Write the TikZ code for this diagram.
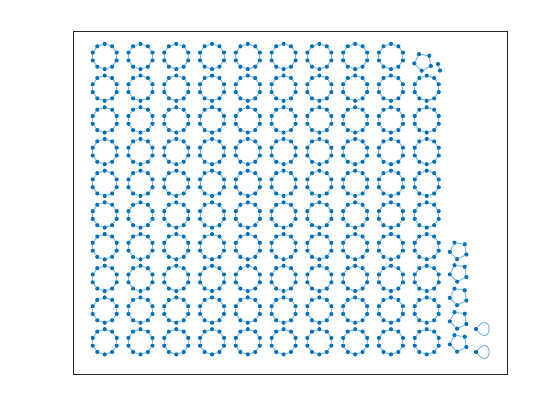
\documentclass[tikz,border=0pt]{standalone}
\usetikzlibrary{calc}
\definecolor{nodeblue}{RGB}{0,114,189}
\definecolor{edgeblue}{RGB}{128,184,222}
\definecolor{axgray}{RGB}{38,38,38}
\pgfdeclarelayer{bg}
\pgfsetlayers{bg,main}
\tikzset{
  vtx/.style={circle, fill=nodeblue, draw=none, inner sep=0pt, minimum size=4.2pt},
  edgeline/.style={draw=edgeblue, line width=1pt},
  axbox/.style={draw=axgray, line width=0.8pt}
}
% #1 name, #2 x, #3 y, #4 count, #5 radius, #6 start angle
\newcommand\polyring[6]{%
  \foreach \k in {1,...,#4}{%
    \node[vtx] (#1-\k) at ({#2+#5*cos(#6+360*(\k-1)/#4)},{#3-#5*sin(#6+360*(\k-1)/#4)}) {};
  }%
  \begin{pgfonlayer}{bg}
  \foreach \k in {1,...,#4}{%
    \pgfmathtruncatemacro{\nk}{mod(\k,#4)+1}%
    \draw[edgeline] (#1-\k) -- (#1-\nk);
  }%
  \end{pgfonlayer}
}
\begin{document}
\begin{tikzpicture}[x=1pt,y=-1pt]
\useasboundingbox (0,0) rectangle (560,420);
\begin{pgfonlayer}{bg}
\fill[white] (0,0) rectangle (560,420);
\end{pgfonlayer}
\node[inner sep=0pt, minimum width=434pt, minimum height=342.3pt, anchor=north west, axbox] (axes) at (72.8,31.5) {};
% decagons
\foreach \c in {1,...,9}{%
  \pgfmathsetmacro{\cx}{104.7+35.78*(\c-1)}%
  \polyring{d-1-\c}{\cx}{56.5}{10}{12.6}{90}
}
\foreach \r in {2,...,10}{%
  \foreach \c in {1,...,10}{%
    \pgfmathsetmacro{\cx}{104.7+35.78*(\c-1)}%
    \pgfmathsetmacro{\cy}{56.5+31.7*(\r-1)}%
    \polyring{d-\r-\c}{\cx}{\cy}{10}{12.6}{90}
  }%
}
% pentagons
\polyring{p-0}{423}{62}{5}{8.8}{45}
\polyring{p-1}{458.5}{250.5}{5}{8.8}{45}
\polyring{p-2}{458.5}{273}{5}{8.8}{45}
\polyring{p-3}{458.5}{296.5}{5}{8.8}{45}
\polyring{p-4}{458.5}{320}{5}{8.8}{45}
\polyring{p-5}{458.5}{343}{5}{8.8}{45}
% two-node piece
\node[vtx] (t-1) at (438,64) {};
\node[vtx] (t-2) at (440,70.5) {};
\begin{pgfonlayer}{bg}
\draw[edgeline] (t-1) -- (t-2);
\end{pgfonlayer}
% self loops
\node[vtx] (s-1) at (476,329) {};
\node[vtx] (s-2) at (476,352) {};
\begin{pgfonlayer}{bg}
\draw[edgeline] (s-1) .. controls +(17,-20) and +(17,20) .. (s-1);
\draw[edgeline] (s-2) .. controls +(17,-20) and +(17,20) .. (s-2);
\end{pgfonlayer}
\end{tikzpicture}
\end{document}
